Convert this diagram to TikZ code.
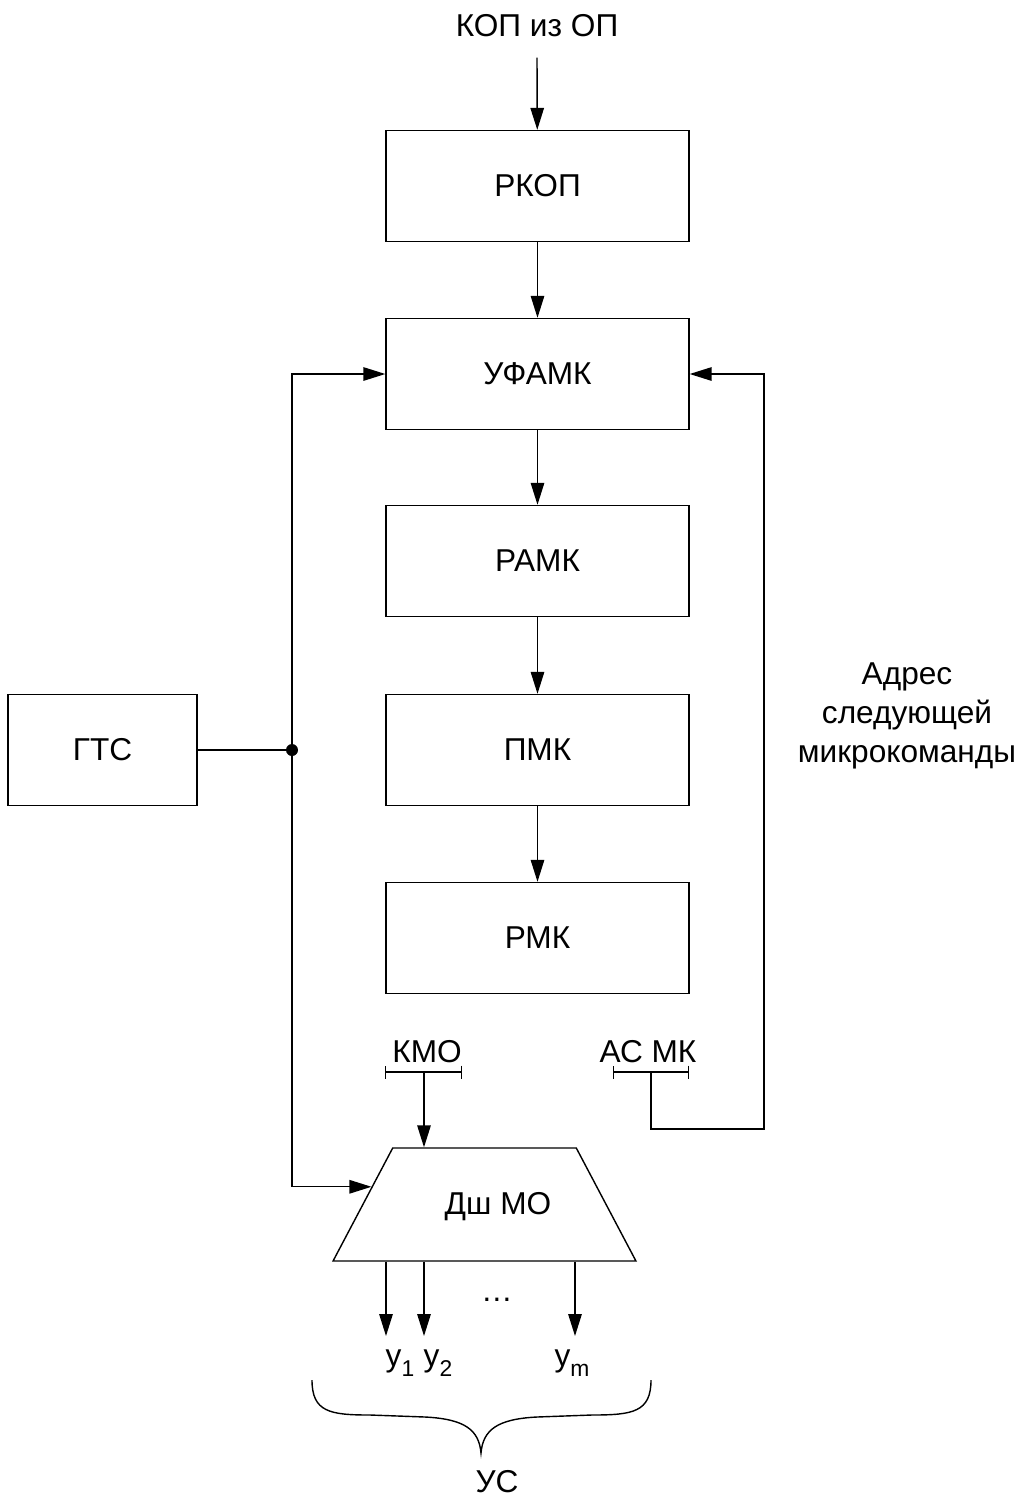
\documentclass[tikz,border=0pt]{standalone}
\usepackage{fontspec}
\setmainfont{Liberation Sans}
\usetikzlibrary{arrows.meta, positioning, calc, shapes.geometric}
\tikzset{
  blk/.style={draw, line width=0.8pt, minimum width=6.06cm, minimum height=2.22cm, align=center},
  dec/.style={draw, trapezium, line width=0.8pt, trapezium left angle=72, trapezium right angle=72, trapezium stretches=true, minimum width=6.06cm, minimum height=2.26cm},
  link/.style={-{Triangle[length=4.4mm, width=2.7mm]}, line width=0.8pt},
  wire/.style={line width=0.8pt},
  bus/.style={{Bar[width=2.6mm]}-{Bar[width=2.6mm]}, line width=0.8pt},
  lbl/.style={inner sep=0pt, align=center}
}
\newcommand{\lowsub}[1]{\raisebox{-0.6ex}{\fontsize{13}{13}\selectfont #1}}

\begin{document}
\begin{tikzpicture}[x=0.02cm, y=-0.02cm, font=\fontsize{18}{22}\selectfont]
        \useasboundingbox (0,0) rectangle (1017,1502);

        % Blocks
        \node[blk] (rkop)  at (537.5, 186) {РКОП};
        \node[blk] (ufamk) at (537.5, 374) {УФАМК};
        \node[blk] (ramk)  at (537.5, 561) {РАМК};
        \node[blk] (pmk)   at (537.5, 750) {ПМК};
        \node[blk] (rmk)   at (537.5, 938) {РМК};
        \node[blk, minimum width=3.78cm] (gts) at (102.5, 750) {ГТС};
        \node[dec] (dsh) at (484.5,1204.5) {};
        \node[lbl] (dshtxt) at (498,1207) {Дш МО};

        % Labels
        \node[lbl] (kop)  at (537,26)   {КОП из ОП};
        \node[lbl] (addr) at (907,716)  {Адрес\\следующей\\микрокоманды};
        \node[lbl] (kmo)  at (427,1052) {КМО};
        \node[lbl] (asmk) at (648,1052) {АС МК};
        \node[lbl] (dots) at (497,1300) {…};
        \node[lbl, anchor=base] (y1) at (400,1366) {y\lowsub{1}};
        \node[lbl, anchor=base] (y2) at (438,1366) {y\lowsub{2}};
        \node[lbl, anchor=base] (ym) at (572,1366) {y\lowsub{m}};
        \node[lbl] (us)   at (497,1482) {УС};

        % Points
        \coordinate (kmoL) at (385,1072);
        \coordinate (kmoR) at (462,1072);
        \coordinate (kmoC) at (424,1072);
        \coordinate (asL)  at (613,1072);
        \coordinate (asR)  at (689,1072);
        \coordinate (asC)  at (651,1072);
        \coordinate (jn)   at (292,750);
        \coordinate (fb)   at (764,1129);
        \coordinate (o1)   at (386,1336);
        \coordinate (o2)   at (424,1336);
        \coordinate (om)   at (575,1336);

        % Links
        \draw[link] ([yshift=-0.4cm]kop.south) -- (rkop);
        \draw[link] (rkop) -- (ufamk);
        \draw[link] (ufamk) -- (ramk);
        \draw[link] (ramk) -- (pmk);
        \draw[link] (pmk) -- (rmk);

        \draw[wire] (gts) -- (jn);
        \fill (jn) circle (0.12cm);
        \draw[link] (jn) |- (ufamk.west);
        \draw[link] (jn) |- ($(dsh.top left corner)!0.345!(dsh.bottom left corner)$);

        \draw[bus] (kmoL) -- (kmoR);
        \draw[link] (kmoC) -- (kmoC |- dsh.north);
        \draw[bus] (asL) -- (asR);
        \draw[link] (asC) |- (fb) |- (ufamk.east);

        \draw[link] (o1 |- dsh.south) -- (o1);
        \draw[link] (o2 |- dsh.south) -- (o2);
        \draw[link] (om |- dsh.south) -- (om);

        % Brace
        \draw[wire] (312,1380) .. controls (312,1412) and (330,1415) .. (370,1415) -- (425,1417)
          .. controls (465,1419) and (479,1430) .. (481,1453)
          .. controls (483,1430) and (497,1419) .. (537,1417) -- (592,1415)
          .. controls (633,1415) and (651,1412) .. (651,1380);
    \end{tikzpicture}
\end{document}
